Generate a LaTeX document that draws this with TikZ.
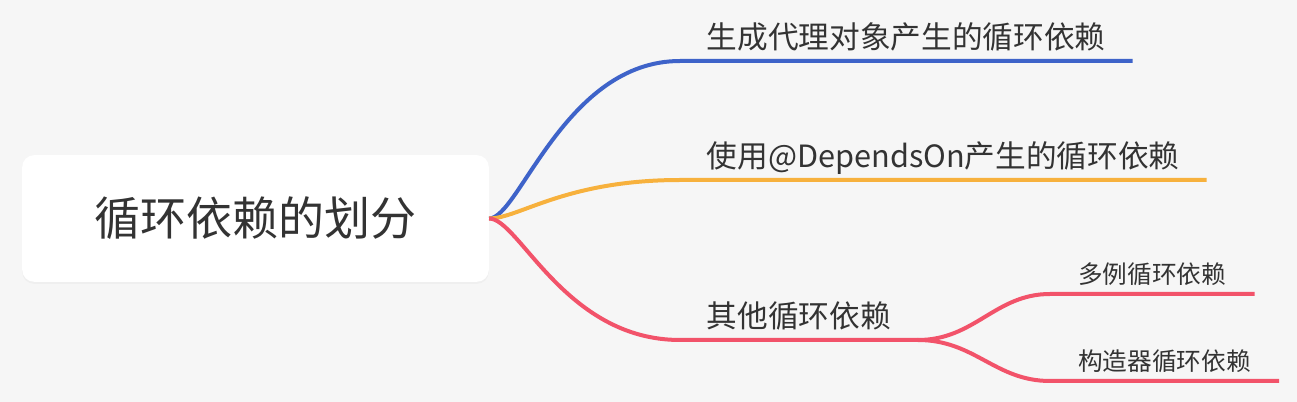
\documentclass[tikz,border=0pt]{standalone}
\usepackage{fontspec}
\usepackage{tikz}
\usetikzlibrary{shadows}
\newfontfamily\cjk{Noto Sans CJK SC}
\definecolor{bgcol}{HTML}{F6F6F6}
\definecolor{txtcol}{HTML}{333333}
\definecolor{bluebr}{HTML}{3E63C9}
\definecolor{orangebr}{HTML}{F7B13D}
\definecolor{redbr}{HTML}{F2536A}

\begin{document}
\begin{tikzpicture}
  [x=0.75pt,y=-0.75pt,
   every node/.style={text=txtcol},
   topic/.style={rectangle, rounded corners=9pt, fill=white, minimum width=350pt,
     minimum height=95pt, font=\cjk\fontsize{34.5}{40}\selectfont,
     drop shadow={shadow xshift=0pt, shadow yshift=-1.5pt, opacity=0.06}},
   branch/.style={anchor=south west, inner xsep=20pt, inner ysep=7pt,
     text height=0.8em, text depth=0.2em, font=\cjk\fontsize{23}{27}\selectfont},
   leaf/.style={branch, inner xsep=21pt, inner ysep=5.5pt, font=\cjk\fontsize{18.5}{22}\selectfont},
   link/.style={line width=3pt}]
  \fill[bgcol] (0,0) rectangle (1297,402);
  \useasboundingbox (0,0) rectangle (1297,402);

  \node[topic] (root) at (255.5,218.5) {循环依赖的划分};
  \node[branch] (proxy) at (680,61) {生成代理对象产生的循环依赖};
  \node[branch] (depends) at (680,180) {使用@DependsOn产生的循环依赖};
  \node[branch] (other) at (680,340) {其他循环依赖};
  \node[leaf] (multi) at (1050,294) {多例循环依赖};
  \node[leaf] (ctor) at (1050,381) {构造器循环依赖};

  \foreach \to/\col in {proxy/bluebr, depends/orangebr, other/redbr}
    \draw[link,\col] (root.east) .. controls +(30,0) and +(-115,0) .. (\to.south west) -- (\to.south east);
  \foreach \to in {multi,ctor}
    \draw[link,redbr] (other.south east) .. controls +(57,0) and +(-55,0) .. (\to.south west) -- (\to.south east);
\end{tikzpicture}
\end{document}
